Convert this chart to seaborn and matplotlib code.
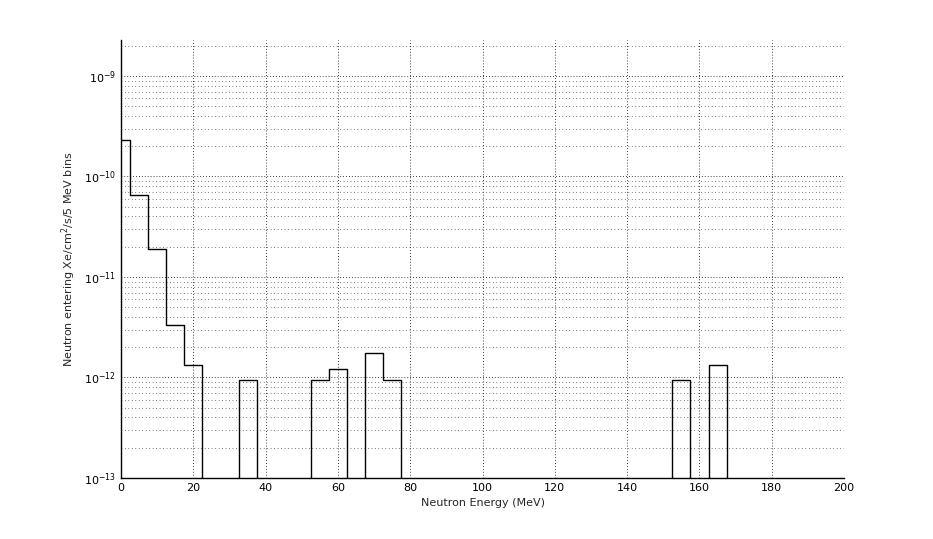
import numpy as np
import pandas as pd
import matplotlib
matplotlib.use('Agg')
import matplotlib.pyplot as plt
import seaborn as sns
from matplotlib.ticker import FixedLocator, MultipleLocator, NullFormatter

# bin centres (MeV), 5 MeV bins
energy = [0, 5, 10, 15, 20, 25, 30, 35, 40, 45, 50, 55, 60, 65, 70, 75, 80,
          85, 90, 95, 100, 105, 110, 115, 120, 125, 130, 135, 140, 145, 150,
          155, 160, 165, 170, 175, 180, 185, 190, 195, 200]
flux = [2.32e-10, 6.47e-11, 1.9e-11, 3.32e-12, 1.33e-12, 0, 0, 0.94e-12, 0, 0,
        0, 0.94e-12, 1.21e-12, 0, 1.75e-12, 0.94e-12, 0,
        0, 0, 0, 0, 0, 0, 0, 0, 0, 0, 0, 0, 0, 0,
        0.94e-12, 0, 1.34e-12, 0, 0, 0, 0, 0, 0, 0]
decades = [1e-13, 1e-12, 1e-11, 1e-10, 1e-9]

df = pd.DataFrame({'E': energy, 'flux': flux})
# empty bins drop below the visible range on a log axis
df['plot'] = np.where(df['flux'] > 0, df['flux'], 1e-16)

sns.set_style('white')
plt.rcParams['font.family'] = ['DejaVu Sans']

fig = plt.figure(figsize=(9.33, 5.39), dpi=100)
ax = fig.add_axes([0.1297, 0.1132, 0.775, 0.8126])

sns.lineplot(data=df, x='E', y='plot', ax=ax, color='black', linewidth=1.0,
             drawstyle='steps-mid', estimator=None, legend=False)

ax.set_yscale('log')
ax.set_xlim(0, 200)
ax.set_ylim(1e-13, 2.28e-9)
ax.xaxis.set_major_locator(MultipleLocator(20))
ax.yaxis.set_major_locator(FixedLocator(decades))
minor = [d * k for d in decades for k in range(2, 10) if d * k <= 2.28e-9]
ax.yaxis.set_minor_locator(FixedLocator(minor))
ax.yaxis.set_minor_formatter(NullFormatter())

ax.grid(True, which='major', axis='both', color='black', linestyle=(0, (1, 2.5)), linewidth=0.6)
ax.grid(True, which='minor', axis='y', color='black', linestyle=(0, (1, 4)), linewidth=0.5)

for s in ['top', 'right']:
    ax.spines[s].set_visible(False)
for s in ['left', 'bottom']:
    ax.spines[s].set_color('black')
    ax.spines[s].set_linewidth(1.0)

ax.tick_params(which='major', direction='in', length=5, width=0.8, labelsize=8, colors='black')
ax.tick_params(which='minor', direction='in', length=3, width=0.6, colors='black')

ax.set_xlabel('Neutron Energy (MeV)', fontsize=8)
ax.set_ylabel('Neutron entering Xe/cm$^2$/s/5 MeV bins', fontsize=8)

fig.savefig('out.png', dpi=100)
